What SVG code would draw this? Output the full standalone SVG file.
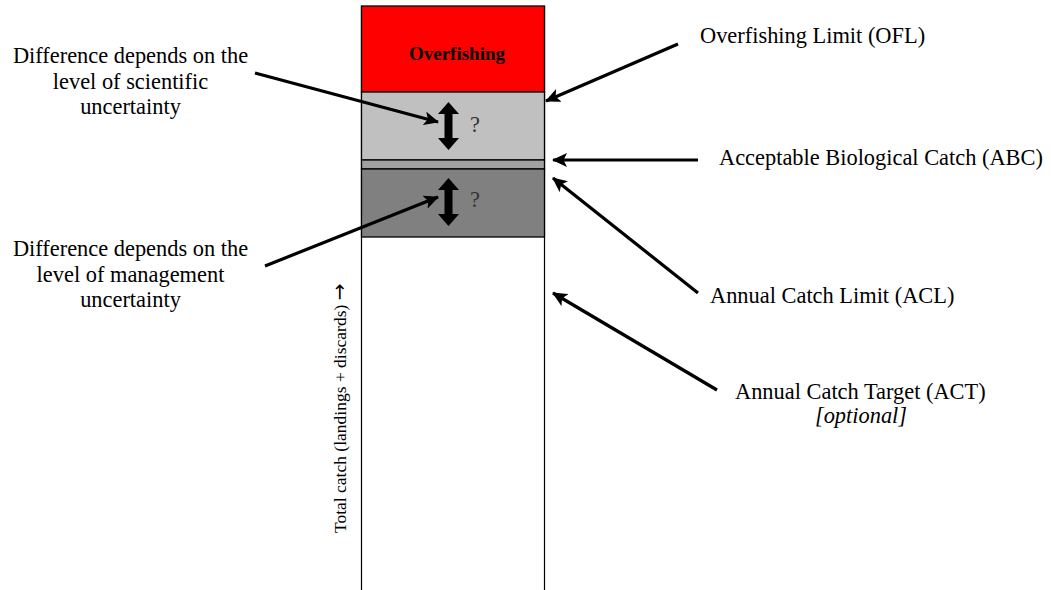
<svg xmlns="http://www.w3.org/2000/svg" width="1051" height="590" viewBox="0 0 1051 590">
<style>
.t{font-family:"Liberation Serif","Times New Roman",serif;font-size:22.4px;fill:#000}
.c{text-anchor:middle}
.conn{stroke:#000;stroke-width:3.2;fill:none;marker-end:url(#ah)}
.sec{stroke:#000;stroke-width:1.3}
</style>
<defs>
<marker id="ah" markerUnits="userSpaceOnUse" markerWidth="16" markerHeight="14" refX="14" refY="7" orient="auto" viewBox="0 0 16 14">
<path d="M0,0 L15,7 L0,14 L3.5,7 Z" fill="#000"/>
</marker>
</defs>
<rect width="1051" height="590" fill="#fff"/>
<g id="column">
<line x1="361.5" y1="6" x2="361.5" y2="590" stroke="#000" stroke-width="1.2"/>
<line x1="544.5" y1="6" x2="544.5" y2="590" stroke="#000" stroke-width="1.2"/>
</g>
<g id="overfishing">
<rect class="sec" x="361.5" y="6" width="183" height="86" fill="#ff0000"/>
<text class="t c" x="457" y="60" style="font-weight:bold;font-size:19px">Overfishing</text>
</g>
<g id="scientific-buffer">
<rect class="sec" x="361.5" y="92" width="183" height="68" fill="#c0c0c0"/>
<polygon points="448.5,102 459,114 452.5,114 452.5,138 459,138 448.5,150 438,138 444.5,138 444.5,114 438,114" fill="#000"/>
<text class="t" x="470" y="132" style="fill:#333">?</text>
</g>
<g id="abc-band">
<rect class="sec" x="361.5" y="160" width="183" height="9" fill="#a0a0a0"/>
</g>
<g id="management-buffer">
<rect class="sec" x="361.5" y="169" width="183" height="68" fill="#808080"/>
<polygon points="448.5,178 459,190 452.5,190 452.5,214 459,214 448.5,226 438,214 444.5,214 444.5,190 438,190" fill="#000"/>
<text class="t" x="470" y="207" style="fill:#333">?</text>
</g>
<g id="label-scientific">
<text class="t c" x="130.5" y="63">Difference depends on the</text>
<text class="t c" x="130.5" y="89">level of scientific</text>
<text class="t c" x="130.5" y="114">uncertainty</text>
</g>
<g id="label-management">
<text class="t c" x="130.5" y="256">Difference depends on the</text>
<text class="t c" x="130.5" y="282">level of management</text>
<text class="t c" x="130.5" y="307">uncertainty</text>
</g>
<g id="label-ofl">
<text class="t" x="700" y="43">Overfishing Limit (OFL)</text>
</g>
<g id="label-abc">
<text class="t" x="719" y="165">Acceptable Biological Catch (ABC)</text>
</g>
<g id="label-acl">
<text class="t" x="710" y="303">Annual Catch Limit (ACL)</text>
</g>
<g id="label-act">
<text class="t" x="735" y="399">Annual Catch Target (ACT)</text>
<text class="t c" x="861" y="423" style="font-style:italic">[optional]</text>
</g>
<g id="axis-label">
<text class="t" transform="translate(346,533) rotate(-90)" style="font-size:17.5px">Total catch (landings + discards) <tspan style="font-family:'DejaVu Sans',sans-serif;font-size:20px">→</tspan></text>
</g>
<g id="connectors">
<line class="conn" x1="255" y1="73" x2="438" y2="122"/>
<line class="conn" x1="265" y1="266" x2="438" y2="197"/>
<line class="conn" x1="678" y1="44" x2="546" y2="101"/>
<line class="conn" x1="698" y1="160" x2="553" y2="160"/>
<line class="conn" x1="698" y1="293" x2="553" y2="178"/>
<line class="conn" x1="717" y1="390" x2="553" y2="293"/>
</g>
</svg>
